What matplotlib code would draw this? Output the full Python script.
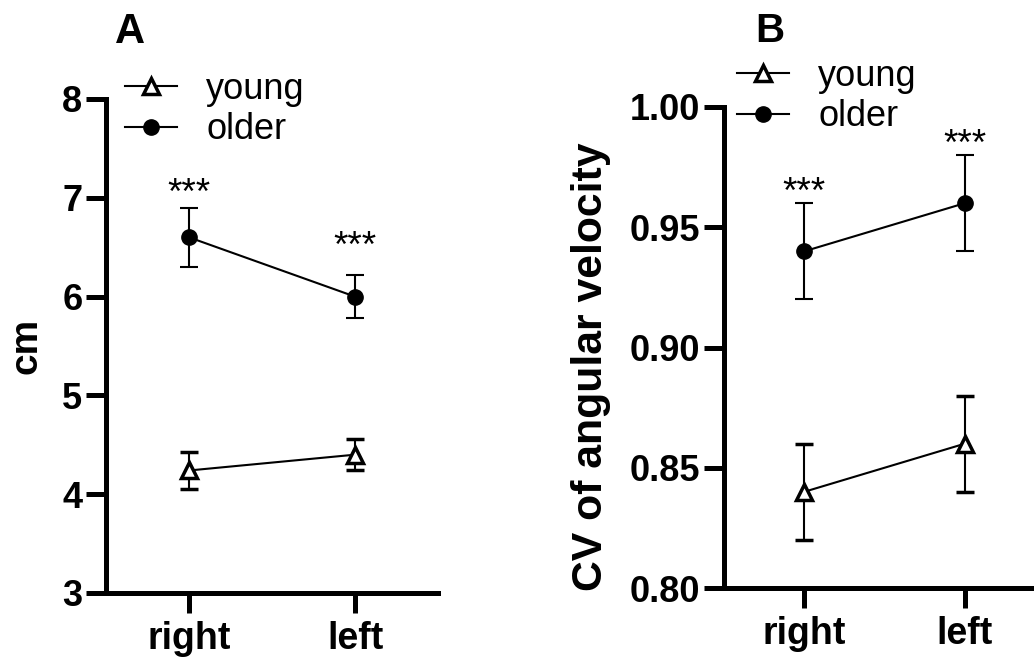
import matplotlib
matplotlib.use("Agg")
import matplotlib.pyplot as plt
from matplotlib.lines import Line2D
import numpy as np

plt.rcParams['font.family'] = ['Liberation Sans', 'DejaVu Sans']

categories = ["right", "left"]
groups = ["young", "older"]

# Panel A: cm
a_young_mean = [4.24, 4.40]
a_young_err = [0.19, 0.16]
a_older_mean = [6.60, 6.00]
a_older_err = [0.30, 0.22]
a_sig = ["***", "***"]
a_sig_y = [7.03, 6.50]
a_yticks = [3, 4, 5, 6, 7, 8]

# Panel B: CV of angular velocity
b_young_mean = [0.84, 0.86]
b_young_err = [0.02, 0.02]
b_older_mean = [0.94, 0.96]
b_older_err = [0.02, 0.02]
b_sig = ["***", "***"]
b_sig_y = [0.964, 0.984]
b_yticks = [0.80, 0.85, 0.90, 0.95, 1.00]

W, H = 1034, 657
fig = plt.figure(figsize=(W / 100, H / 100), dpi=100)

def fx(px):
    return px / W

def fy(py):
    return 1 - py / H

axA = fig.add_axes([fx(106), fy(593), fx(438) - fx(106), fy(99) - fy(593)])
axB = fig.add_axes([fx(724), fy(588), fx(1045) - fx(724), fy(107) - fy(588)])

spine_w = 3.6
x = np.arange(len(categories))

young_style = dict(color='black', lw=1.5, marker='^', markersize=11,
                   markerfacecolor='white', markeredgecolor='black',
                   markeredgewidth=2.5)
older_style = dict(color='black', lw=1.5, marker='o', markersize=11,
                   markerfacecolor='black', markeredgecolor='black')

def draw(ax, ym, ye, om, oe, sig, sig_y, yticks, ylabel, ylab_fs, fmt):
    ax.errorbar(x, ym, yerr=ye, elinewidth=1.5, capsize=6.5, capthick=1.5,
                ecolor='black', zorder=3, **young_style)
    ax.errorbar(x, om, yerr=oe, elinewidth=1.5, capsize=6.5, capthick=1.5,
                ecolor='black', zorder=3, **older_style)
    for xi, s, sy in zip(x, sig, sig_y):
        ax.text(xi, sy, s, ha='center', va='center', fontsize=26.5)
    ax.set_xlim(-0.5, 1.5)
    ax.set_ylim(yticks[0], yticks[-1])
    ax.set_yticks(yticks)
    ax.set_yticklabels([fmt.format(v) for v in yticks], fontsize=26,
                       fontweight='bold')
    ax.set_xticks(x)
    ax.set_xticklabels(categories, fontsize=27, fontweight='bold')
    for sp in ['top', 'right']:
        ax.spines[sp].set_visible(False)
    for sp in ['left', 'bottom']:
        ax.spines[sp].set_linewidth(spine_w)
    ax.tick_params(axis='both', width=spine_w, length=14.5)
    ax.tick_params(axis='y', pad=2.5)
    ax.tick_params(axis='x', pad=6)
    ax.set_ylabel(ylabel, fontsize=ylab_fs, fontweight='bold')

draw(axA, a_young_mean, a_young_err, a_older_mean, a_older_err, a_sig,
     a_sig_y, a_yticks, "cm", 28, "{:.0f}")
draw(axB, b_young_mean, b_young_err, b_older_mean, b_older_err, b_sig,
     b_sig_y, b_yticks, "CV of angular velocity", 30.8, "{:.2f}")

axA.yaxis.set_label_coords(fx(45), fy(346), transform=fig.transFigure)
axB.yaxis.set_label_coords(fx(611), fy(367), transform=fig.transFigure)

handles = [Line2D([], [], **young_style), Line2D([], [], **older_style)]

leg_kw = dict(loc='upper left', bbox_transform=fig.transFigure,
              frameon=False, fontsize=26, handlelength=1.45,
              handletextpad=0.8, labelspacing=0.15, borderpad=0,
              borderaxespad=0)
axA.legend(handles, groups, bbox_to_anchor=(fx(125), fy(72)), **leg_kw)
axB.legend(handles, groups, bbox_to_anchor=(fx(737), fy(59)), **leg_kw)

fig.text(fx(130), fy(32), "A", fontsize=30, fontweight='bold',
         ha='center', va='center')
fig.text(fx(770), fy(31), "B", fontsize=29, fontweight='bold',
         ha='center', va='center')

fig.savefig("out.png", dpi=100)
